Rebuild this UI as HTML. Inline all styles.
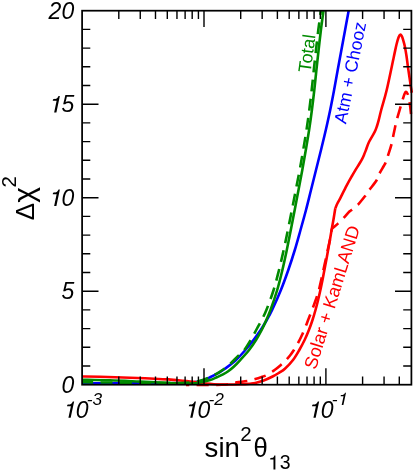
<!DOCTYPE html>
<html><head><meta charset="utf-8"><title>chart</title>
<style>
html,body{margin:0;padding:0;background:#fff;}
body{width:415px;height:471px;overflow:hidden;}
svg{display:block;will-change:transform;}
text{font-family:"Liberation Sans",sans-serif;}
.it{font-style:italic;}
</style></head><body>
<svg width="415" height="471" viewBox="0 0 415 471">
<rect x="0" y="0" width="415" height="471" fill="#fff"/>
<defs><clipPath id="cp"><rect x="81.3" y="9.899999999999999" width="332.49999999999994" height="377.6"/></clipPath></defs>
<g clip-path="url(#cp)" fill="none" stroke-linejoin="round" stroke-linecap="butt">
<path d="M82.00,383.20 C93.33,383.23 133.67,383.42 150.00,383.40 C166.33,383.38 173.00,383.27 180.00,383.10 C187.00,382.93 188.50,382.75 192.00,382.40 C195.50,382.05 198.00,381.85 201.00,381.00 C204.00,380.15 207.00,378.70 210.00,377.30 C213.00,375.90 216.57,373.98 219.00,372.60 C221.43,371.22 221.85,371.02 224.60,369.00 C227.35,366.98 232.03,363.67 235.50,360.50 C238.97,357.33 242.40,353.42 245.40,350.00 C248.40,346.58 250.95,343.33 253.50,340.00 C256.05,336.67 258.48,333.33 260.70,330.00 C262.92,326.67 264.90,323.33 266.80,320.00 C268.70,316.67 269.75,315.00 272.10,310.00 C274.45,305.00 278.20,296.67 280.90,290.00 C283.60,283.33 285.98,276.67 288.30,270.00 C290.62,263.33 292.77,256.67 294.80,250.00 C296.83,243.33 298.63,236.67 300.50,230.00 C302.37,223.33 304.25,216.67 306.00,210.00 C307.75,203.33 309.33,196.67 311.00,190.00 C312.67,183.33 314.33,176.67 316.00,170.00 C317.67,163.33 319.37,156.67 321.00,150.00 C322.63,143.33 324.27,136.67 325.80,130.00 C327.33,123.33 328.82,116.67 330.20,110.00 C331.58,103.33 332.85,96.67 334.10,90.00 C335.35,83.33 336.48,76.67 337.70,70.00 C338.92,63.33 340.17,56.67 341.40,50.00 C342.63,43.33 343.87,36.67 345.10,30.00 C346.33,23.33 348.18,13.33 348.80,10.00" stroke="#0000ff" stroke-width="2.6"/>
<path d="M82.00,376.50 C85.00,376.53 92.00,376.50 100.00,376.70 C108.00,376.90 121.67,377.40 130.00,377.70 C138.33,378.00 143.58,378.22 150.00,378.50 C156.42,378.78 162.83,379.00 168.50,379.40 C174.17,379.80 180.42,380.55 184.00,380.90 C187.58,381.25 187.67,381.23 190.00,381.50 C192.33,381.77 195.33,382.15 198.00,382.50 C200.67,382.85 203.33,383.32 206.00,383.60 C208.67,383.88 210.83,384.05 214.00,384.20 C217.17,384.35 220.67,384.48 225.00,384.50 C229.33,384.52 235.83,384.43 240.00,384.30 C244.17,384.17 247.45,383.92 250.00,383.70 C252.55,383.48 253.02,383.53 255.30,383.00 C257.58,382.47 260.82,381.58 263.70,380.50 C266.58,379.42 270.05,377.78 272.60,376.50 C275.15,375.22 276.95,374.08 279.00,372.80 C281.05,371.52 282.57,370.93 284.90,368.80 C287.23,366.67 290.60,363.13 293.00,360.00 C295.40,356.87 297.37,353.33 299.30,350.00 C301.23,346.67 303.00,343.33 304.60,340.00 C306.20,336.67 307.58,333.33 308.90,330.00 C310.22,326.67 311.40,323.33 312.50,320.00 C313.60,316.67 314.57,313.33 315.50,310.00 C316.43,306.67 317.28,303.33 318.10,300.00 C318.92,296.67 319.67,293.33 320.40,290.00 C321.13,286.67 321.83,283.33 322.50,280.00 C323.17,276.67 323.77,273.33 324.40,270.00 C325.03,266.67 325.68,263.33 326.30,260.00 C326.92,256.67 327.50,253.33 328.10,250.00 C328.70,246.67 329.32,243.33 329.90,240.00 C330.48,236.67 331.02,233.33 331.60,230.00 C332.18,226.67 332.78,223.62 333.40,220.00 C334.02,216.38 334.98,210.25 335.30,208.30" stroke="#ff0000" stroke-width="2.6"/>
<path d="M335.30,208.30 C335.67,207.47 336.68,204.97 337.50,203.30 C338.32,201.63 338.68,201.25 340.20,198.30 C341.72,195.35 344.58,189.42 346.60,185.60 C348.62,181.78 350.78,178.07 352.30,175.40 C353.82,172.73 354.50,171.58 355.70,169.60 C356.90,167.62 358.42,165.30 359.50,163.50 C360.58,161.70 361.45,160.23 362.20,158.80 C362.95,157.37 363.42,156.27 364.00,154.90 C364.58,153.53 364.85,152.78 365.70,150.60 C366.55,148.42 367.58,144.95 369.10,141.80 C370.62,138.65 373.48,134.33 374.80,131.70 C376.12,129.07 376.35,127.92 377.00,126.00 C377.65,124.08 378.00,122.87 378.70,120.20 C379.40,117.53 379.87,115.03 381.20,110.00 C382.53,104.97 384.62,98.77 386.70,90.00 C388.78,81.23 392.07,64.98 393.70,57.40 C395.33,49.82 395.68,47.87 396.50,44.50 C397.32,41.13 397.98,38.83 398.60,37.20 C399.22,35.57 399.67,34.87 400.20,34.70 C400.73,34.53 401.28,35.23 401.80,36.20 C402.32,37.17 402.80,38.83 403.30,40.50 C403.80,42.17 404.27,43.62 404.80,46.20 C405.33,48.78 405.97,52.47 406.50,56.00 C407.03,59.53 407.50,63.82 408.00,67.40 C408.50,70.98 409.03,74.33 409.50,77.50 C409.97,80.67 410.42,83.85 410.80,86.40 C411.18,88.95 411.63,91.73 411.80,92.80" stroke="#ff0000" stroke-width="2.6"/>
<path d="M186.00,385.00 C188.33,385.00 194.00,385.03 200.00,385.00 C206.00,384.97 217.00,385.00 222.00,384.80 C227.00,384.60 227.55,384.20 230.00,383.80 C232.45,383.40 233.75,382.87 236.70,382.40 C239.65,381.93 244.60,381.55 247.70,381.00 C250.80,380.45 253.08,379.72 255.30,379.10 C257.52,378.48 259.07,377.98 261.00,377.30 C262.93,376.62 264.63,376.22 266.90,375.00 C269.17,373.78 272.27,371.67 274.60,370.00 C276.93,368.33 278.98,366.67 280.90,365.00 C282.82,363.33 284.52,361.67 286.10,360.00 C287.68,358.33 289.10,356.67 290.40,355.00 C291.70,353.33 292.80,351.67 293.90,350.00 C295.00,348.33 296.05,346.67 297.00,345.00 C297.95,343.33 298.77,341.67 299.60,340.00 C300.43,338.33 301.25,336.67 302.00,335.00 C302.75,333.33 303.40,331.67 304.10,330.00 C304.80,328.33 305.53,326.67 306.20,325.00 C306.87,323.33 307.45,321.67 308.10,320.00 C308.75,318.33 309.45,316.67 310.10,315.00 C310.75,313.33 311.37,311.67 312.00,310.00 C312.63,308.33 313.28,306.67 313.90,305.00 C314.52,303.33 315.12,301.67 315.70,300.00 C316.28,298.33 316.87,296.67 317.40,295.00 C317.93,293.33 318.27,292.50 318.90,290.00 C319.53,287.50 320.45,283.33 321.20,280.00 C321.95,276.67 322.67,273.33 323.40,270.00 C324.13,266.67 324.88,263.33 325.60,260.00 C326.32,256.67 326.98,253.33 327.70,250.00 C328.42,246.67 329.25,243.33 329.90,240.00 C330.55,236.67 331.00,232.10 331.60,230.00 C332.20,227.90 332.45,228.47 333.50,227.40 C334.55,226.33 336.20,225.20 337.90,223.60 C339.60,222.00 341.78,219.82 343.70,217.80 C345.62,215.78 348.08,212.80 349.40,211.50 C350.72,210.20 350.20,211.12 351.60,210.00 C353.00,208.88 355.58,207.08 357.80,204.80 C360.02,202.52 363.03,198.70 364.90,196.30 C366.77,193.90 367.10,192.98 369.00,190.40 C370.90,187.82 374.63,183.48 376.30,180.80 C377.97,178.12 377.47,177.28 379.00,174.30 C380.53,171.32 384.10,165.75 385.50,162.90 C386.90,160.05 386.45,160.12 387.40,157.20 C388.35,154.28 390.12,149.47 391.20,145.40 C392.28,141.33 393.00,136.95 393.90,132.80 C394.80,128.65 395.48,124.87 396.60,120.50 C397.72,116.13 399.58,110.10 400.60,106.60 C401.62,103.10 402.05,101.60 402.70,99.50 C403.35,97.40 403.97,95.27 404.50,94.00 C405.03,92.73 405.42,91.98 405.90,91.90 C406.38,91.82 406.92,92.57 407.40,93.50 C407.88,94.43 408.37,95.58 408.80,97.50 C409.23,99.42 409.63,102.25 410.00,105.00 C410.37,107.75 410.83,112.50 411.00,114.00" stroke="#ff0000" stroke-width="2.6" stroke-dasharray="12.0 7.4" stroke-dashoffset="8.63"/>
<path d="M82.00,379.70 C86.67,379.80 100.33,379.98 110.00,380.30 C119.67,380.62 130.00,381.15 140.00,381.60 C150.00,382.05 162.50,382.67 170.00,383.00 C177.50,383.33 180.83,383.57 185.00,383.60 C189.17,383.63 191.80,383.53 195.00,383.20 C198.20,382.87 201.70,382.12 204.20,381.60 C206.70,381.08 207.88,380.83 210.00,380.10 C212.12,379.37 214.73,378.15 216.90,377.20 C219.07,376.25 221.12,375.38 223.00,374.40 C224.88,373.42 226.42,372.57 228.20,371.30 C229.98,370.03 231.73,368.63 233.70,366.80 C235.67,364.97 237.43,363.10 240.00,360.30 C242.57,357.50 246.43,353.38 249.10,350.00 C251.77,346.62 253.90,343.33 256.00,340.00 C258.10,336.67 259.98,333.33 261.70,330.00 C263.42,326.67 264.83,323.33 266.30,320.00 C267.77,316.67 268.68,315.00 270.50,310.00 C272.32,305.00 275.22,296.67 277.20,290.00 C279.18,283.33 280.80,276.67 282.40,270.00 C284.00,263.33 285.40,256.67 286.80,250.00 C288.20,243.33 289.48,236.67 290.80,230.00 C292.12,223.33 293.42,216.67 294.70,210.00 C295.98,203.33 297.23,196.67 298.50,190.00 C299.77,183.33 301.08,176.67 302.30,170.00 C303.52,163.33 304.67,156.67 305.80,150.00 C306.93,143.33 308.08,136.67 309.10,130.00 C310.12,123.33 311.03,116.67 311.90,110.00 C312.77,103.33 313.55,96.67 314.30,90.00 C315.05,83.33 315.68,76.67 316.40,70.00 C317.12,63.33 317.85,56.67 318.60,50.00 C319.35,43.33 320.07,36.67 320.90,30.00 C321.73,23.33 323.15,13.33 323.60,10.00" stroke="#008b00" stroke-width="2.6"/>
<path d="M82.00,382.30 C93.33,382.38 133.67,382.68 150.00,382.80 C166.33,382.92 173.00,383.08 180.00,383.00 C187.00,382.92 188.50,382.70 192.00,382.30 C195.50,381.90 198.00,381.48 201.00,380.60 C204.00,379.72 207.00,378.38 210.00,377.00 C213.00,375.62 215.92,374.22 219.00,372.30 C222.08,370.38 225.35,368.20 228.50,365.50 C231.65,362.80 235.27,358.68 237.90,356.10 C240.53,353.52 242.17,352.68 244.30,350.00 C246.43,347.32 248.72,343.33 250.70,340.00 C252.68,336.67 254.38,333.33 256.20,330.00 C258.02,326.67 259.90,323.33 261.60,320.00 C263.30,316.67 264.40,315.00 266.40,310.00 C268.40,305.00 271.50,296.67 273.60,290.00 C275.70,283.33 277.32,276.67 279.00,270.00 C280.68,263.33 282.22,256.67 283.70,250.00 C285.18,243.33 286.53,236.67 287.90,230.00 C289.27,223.33 290.58,216.67 291.90,210.00 C293.22,203.33 294.50,196.67 295.80,190.00 C297.10,183.33 298.47,176.67 299.70,170.00 C300.93,163.33 302.07,156.67 303.20,150.00 C304.33,143.33 305.48,136.67 306.50,130.00 C307.52,123.33 308.43,116.67 309.30,110.00 C310.17,103.33 310.95,96.67 311.70,90.00 C312.45,83.33 313.08,76.67 313.80,70.00 C314.52,63.33 315.25,56.67 316.00,50.00 C316.75,43.33 317.47,36.67 318.30,30.00 C319.13,23.33 320.55,13.33 321.00,10.00" stroke="#008b00" stroke-width="2.6" stroke-dasharray="11.9 7.35" stroke-dashoffset="0.59"/>
</g>
<g fill="none" stroke="#000" stroke-width="1.4">
<path d="M82.10,366.00 h8.20 M411.40,366.00 h-8.20 M82.10,347.30 h8.20 M411.40,347.30 h-8.20 M82.10,328.60 h8.20 M411.40,328.60 h-8.20 M82.10,309.90 h8.20 M411.40,309.90 h-8.20 M82.10,291.20 h16.40 M411.40,291.20 h-16.40 M82.10,272.50 h8.20 M411.40,272.50 h-8.20 M82.10,253.80 h8.20 M411.40,253.80 h-8.20 M82.10,235.10 h8.20 M411.40,235.10 h-8.20 M82.10,216.40 h8.20 M411.40,216.40 h-8.20 M82.10,197.70 h16.40 M411.40,197.70 h-16.40 M82.10,179.00 h8.20 M411.40,179.00 h-8.20 M82.10,160.30 h8.20 M411.40,160.30 h-8.20 M82.10,141.60 h8.20 M411.40,141.60 h-8.20 M82.10,122.90 h8.20 M411.40,122.90 h-8.20 M82.10,104.20 h16.40 M411.40,104.20 h-16.40 M82.10,85.50 h8.20 M411.40,85.50 h-8.20 M82.10,66.80 h8.20 M411.40,66.80 h-8.20 M82.10,48.10 h8.20 M411.40,48.10 h-8.20 M82.10,29.40 h8.20 M411.40,29.40 h-8.20 M118.80,384.70 v-8.20 M118.80,10.70 v8.20 M140.26,384.70 v-8.20 M140.26,10.70 v8.20 M155.49,384.70 v-8.20 M155.49,10.70 v8.20 M167.30,384.70 v-8.20 M167.30,10.70 v8.20 M176.96,384.70 v-8.20 M176.96,10.70 v8.20 M185.12,384.70 v-8.20 M185.12,10.70 v8.20 M192.19,384.70 v-8.20 M192.19,10.70 v8.20 M198.42,384.70 v-8.20 M198.42,10.70 v8.20 M204.00,384.70 v-16.40 M204.00,10.70 v16.40 M240.70,384.70 v-8.20 M240.70,10.70 v8.20 M262.16,384.70 v-8.20 M262.16,10.70 v8.20 M277.39,384.70 v-8.20 M277.39,10.70 v8.20 M289.20,384.70 v-8.20 M289.20,10.70 v8.20 M298.86,384.70 v-8.20 M298.86,10.70 v8.20 M307.02,384.70 v-8.20 M307.02,10.70 v8.20 M314.09,384.70 v-8.20 M314.09,10.70 v8.20 M320.32,384.70 v-8.20 M320.32,10.70 v8.20 M325.90,384.70 v-16.40 M325.90,10.70 v16.40 M362.60,384.70 v-8.20 M362.60,10.70 v8.20 M384.06,384.70 v-8.20 M384.06,10.70 v8.20 M399.29,384.70 v-8.20 M399.29,10.70 v8.20"/>
<rect x="82.1" y="10.7" width="329.29999999999995" height="374.0" stroke-width="1.75"/>
</g>
<text class="it" x="61.41" y="392.90" font-size="23.0">0</text>
<text class="it" x="61.41" y="299.40" font-size="23.0">5</text>
<path d="M240,505 L240,0 L338,0 L338,709 L282,709 C251,600 225,585 72,568 L72,505 Z" fill="#000" transform="translate(48.62,205.90) scale(0.02300,-0.02300) matrix(1,0,0.2126,1,0,0)"/>
<text class="it" x="61.41" y="205.90" font-size="23.0">0</text>
<path d="M240,505 L240,0 L338,0 L338,709 L282,709 C251,600 225,585 72,568 L72,505 Z" fill="#000" transform="translate(48.62,112.40) scale(0.02300,-0.02300) matrix(1,0,0.2126,1,0,0)"/>
<text class="it" x="61.41" y="112.40" font-size="23.0">5</text>
<text class="it" x="48.62" y="18.90" font-size="23.0">2</text>
<text class="it" x="61.41" y="18.90" font-size="23.0">0</text>
<path d="M240,505 L240,0 L338,0 L338,709 L282,709 C251,600 225,585 72,568 L72,505 Z" fill="#000" transform="translate(62.90,417.80) scale(0.02300,-0.02300) matrix(1,0,0.2126,1,0,0)"/>
<text class="it" x="75.69" y="417.80" font-size="23.0">0</text>
<text class="it" x="86.78" y="404.90" font-size="17.3">-</text>
<text class="it" x="92.54" y="404.90" font-size="17.3">3</text>
<path d="M240,505 L240,0 L338,0 L338,709 L282,709 C251,600 225,585 72,568 L72,505 Z" fill="#000" transform="translate(184.70,417.80) scale(0.02300,-0.02300) matrix(1,0,0.2126,1,0,0)"/>
<text class="it" x="197.49" y="417.80" font-size="23.0">0</text>
<text class="it" x="208.58" y="404.90" font-size="17.3">-</text>
<text class="it" x="214.34" y="404.90" font-size="17.3">2</text>
<path d="M240,505 L240,0 L338,0 L338,709 L282,709 C251,600 225,585 72,568 L72,505 Z" fill="#000" transform="translate(307.90,417.80) scale(0.02300,-0.02300) matrix(1,0,0.2126,1,0,0)"/>
<text class="it" x="320.69" y="417.80" font-size="23.0">0</text>
<text class="it" x="331.78" y="404.90" font-size="17.3">-</text>
<path d="M240,505 L240,0 L338,0 L338,709 L282,709 C251,600 225,585 72,568 L72,505 Z" fill="#000" transform="translate(337.54,404.90) scale(0.01730,-0.01730) matrix(1,0,0.2126,1,0,0)"/>
<text x="204.6" y="457" font-size="27.6">sin</text>
<text x="240.2" y="441" font-size="20.5">2</text>
<text transform="translate(253.6,457.3) scale(0.9,1)" font-size="28.5">θ</text>
<path d="M240,505 L240,0 L338,0 L338,709 L282,709 C251,600 225,585 72,568 L72,505 Z" fill="#000" transform="translate(268.80,469.40) scale(0.01950,-0.01950)"/>
<text x="279.64" y="469.40" font-size="19.5">3</text>
<text transform="translate(33.5,220.2) rotate(-90)" font-size="26">Δ</text>
<text transform="translate(33.5,202.8) rotate(-90)" font-size="30">χ</text>
<text transform="translate(15.9,187.6) rotate(-90)" font-size="20.5">2</text>
<text transform="translate(310.5,73) rotate(-82.5)" font-size="18" fill="#008b00">Total</text>
<text transform="translate(345.9,124.4) rotate(-78.6)" font-size="17.8" fill="#0000ff">Atm + Chooz</text>
<text transform="translate(315.7,370.2) rotate(-72.7)" font-size="18.2" fill="#ff0000">Solar + KamLAND</text>
</svg>
</body></html>
